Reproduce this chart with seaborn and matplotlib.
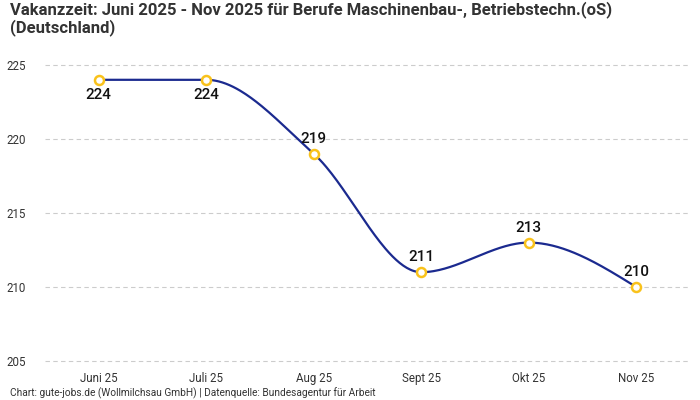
import numpy as np
import pandas as pd
import matplotlib
matplotlib.use("Agg")
import matplotlib.pyplot as plt
import seaborn as sns

months = ["Juni 25", "Juli 25", "Aug 25", "Sept 25", "Okt 25", "Nov 25"]
values = [224, 224, 219, 211, 213, 210]
label_side = ["below", "below", "above", "above", "above", "above"]
yticks = [205, 210, 215, 220, 225]

title = "Vakanzzeit: Juni 2025 - Nov 2025 für Berufe Maschinenbau-, Betriebstechn.(oS)\n(Deutschland)"
footer = "Chart: gute-jobs.de (Wollmilchsau GmbH) | Datenquelle: Bundesagentur für Arbeit"

sns.set_theme(style="white")
plt.rcParams["font.family"] = ["Roboto", "DejaVu Sans"]

LINE = "#1b2a8f"
GOLD = "#f9c21b"
TXT = "#333333"


def monotone_tangents(y):
    y = np.asarray(y, dtype=float)
    n = len(y)
    s = np.diff(y)
    m = np.zeros(n)
    for i in range(1, n - 1):
        s0, s1 = s[i - 1], s[i]
        p = (s0 + s1) / 2
        m[i] = (np.sign(s0) + np.sign(s1)) * min(abs(s0), abs(s1), 0.5 * abs(p))
    m[0] = (3 * s[0] - m[1]) / 2
    m[-1] = (3 * s[-1] - m[-2]) / 2
    return m


def smooth_curve(y, steps=60):
    y = np.asarray(y, dtype=float)
    m = monotone_tangents(y)
    xs, ys = [], []
    for i in range(len(y) - 1):
        t = np.linspace(0, 1, steps, endpoint=(i == len(y) - 2))
        h00 = 2 * t**3 - 3 * t**2 + 1
        h10 = t**3 - 2 * t**2 + t
        h01 = -2 * t**3 + 3 * t**2
        h11 = t**3 - t**2
        xs.append(i + t)
        ys.append(h00 * y[i] + h10 * m[i] + h01 * y[i + 1] + h11 * m[i + 1])
    return np.concatenate(xs), np.concatenate(ys)


fig = plt.figure(figsize=(7, 4), dpi=100)
ax = fig.add_axes([45 / 700, 1 - 365 / 400, 645 / 700, 310 / 400])

cx, cy = smooth_curve(values)
curve = pd.DataFrame({"x": cx, "y": cy})
pts = pd.DataFrame({"x": np.arange(len(months)), "y": values})

sns.lineplot(data=curve, x="x", y="y", ax=ax, color=LINE, linewidth=1.6, zorder=2)
sns.scatterplot(data=pts, x="x", y="y", ax=ax, s=42, facecolor="white",
                edgecolor=GOLD, linewidth=1.8, zorder=3)

for i, (v, side) in enumerate(zip(values, label_side)):
    off = -15 if side == "below" else 15
    ax.annotate(str(v), (i, v), xytext=(0, off), textcoords="offset pixels",
                ha="center", va="center", fontsize=11, color="#111111",
                fontweight="medium", zorder=4)

ax.set_xlim(-0.5, len(months) - 0.5)
ax.set_ylim(205 - 4 / 14.8, 225 + 10 / 14.8)
ax.set_xticks(range(len(months)))
ax.set_xticklabels(months)
ax.set_yticks(yticks)
ax.set_yticklabels([str(t) for t in yticks])
ax.set_xlabel("")
ax.set_ylabel("")
ax.tick_params(axis="both", length=0, labelsize=8.3, labelcolor=TXT)
ax.tick_params(axis="x", pad=5)
ax.tick_params(axis="y", pad=14)
for lab in ax.get_yticklabels():
    lab.set_horizontalalignment("right")
ax.grid(axis="y", color="#cccccc", linestyle=(0, (4, 3)), linewidth=0.8)
ax.grid(axis="x", visible=False)
for sp in ax.spines.values():
    sp.set_visible(False)
ax.set_facecolor("white")

fig.text(10 / 700, 1 - 1 / 400, title, ha="left", va="top", fontsize=12,
         fontweight="bold", color=TXT, linespacing=1.1)
fig.text(10 / 700, 1 - 393 / 400, footer, ha="left", va="center", fontsize=7.3, color=TXT)

fig.savefig("out.png", dpi=100, facecolor="white")
